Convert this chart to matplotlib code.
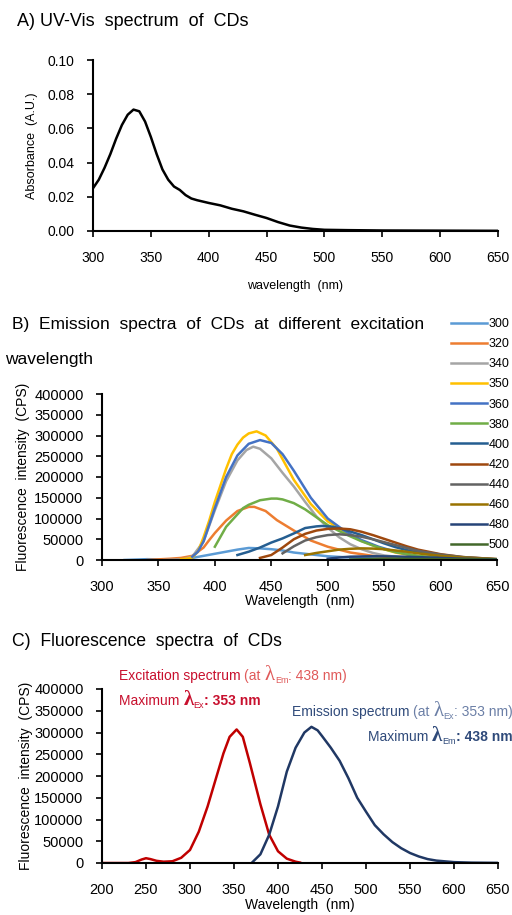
import numpy as np
import matplotlib.pyplot as plt

plt.rcParams['font.family'] = ['Liberation Sans', 'DejaVu Sans']

# A) UV-Vis
uv_wl = [300, 305, 310, 315, 320, 325, 330, 335, 340, 345, 350, 355, 360, 365, 370, 375,
         380, 385, 390, 400, 410, 420, 430, 440, 450, 460, 470, 480, 490, 500, 520, 550, 600, 650]
uv_abs = [0.025, 0.030, 0.037, 0.045, 0.054, 0.062, 0.068, 0.071, 0.070, 0.064, 0.055, 0.045,
          0.036, 0.030, 0.026, 0.024, 0.021, 0.019, 0.018, 0.0164, 0.015, 0.013, 0.0115, 0.0095,
          0.0076, 0.0052, 0.0032, 0.0020, 0.0012, 0.0007, 0.0005, 0.0003, 0.0002, 0.0001]

# B) emission at different excitation wavelengths
ex_labels = ['300', '320', '340', '350', '360', '380', '400', '420', '440', '460', '480', '500']
ex_colors = ['#5B9BD5', '#ED7D31', '#A5A5A5', '#FFC000', '#4472C4', '#70AD47',
             '#255E91', '#9E480E', '#636363', '#997300', '#264478', '#43682B']
em_wl = {
    '300': [320, 340, 360, 380, 400, 420, 430, 440, 450, 460, 470, 480, 490, 500, 520, 550, 600, 650],
    '320': [340, 360, 370, 380, 390, 395, 400, 410, 420, 430, 435, 445, 455, 470, 485, 500, 520,
            540, 560, 580, 600, 650],
    '340': [355, 365, 372, 380, 390, 400, 410, 420, 428, 434, 440, 450, 460, 470, 480, 490, 500, 510,
            520, 530, 540, 550, 570, 600, 650],
    '350': [370, 375, 380, 385, 390, 395, 400, 405, 410, 415, 420, 425, 430, 437, 445, 455, 470,
            485, 500, 515, 530, 545, 560, 580, 600, 650],
    '360': [380, 385, 390, 395, 400, 410, 420, 430, 440, 450, 460, 470, 485, 500, 515, 530, 545,
            560, 580, 600, 650],
    '380': [400, 410, 420, 425, 430, 440, 450, 455, 460, 470, 480, 490, 500, 510, 520, 530, 540, 550,
            560, 580, 600, 625, 650],
    '400': [420, 430, 440, 450, 460, 470, 480, 490, 495, 505, 515, 530, 540, 550, 560, 570, 580, 600,
            625, 650],
    '420': [440, 450, 460, 470, 480, 490, 500, 510, 520, 530, 540, 550, 560, 570, 580, 600, 620, 650],
    '440': [460, 470, 480, 490, 500, 510, 520, 530, 540, 550, 560, 570, 580, 600, 620, 650],
    '460': [480, 490, 500, 510, 520, 530, 540, 550, 560, 570, 580, 600, 620, 650],
    '480': [500, 510, 520, 540, 560, 580, 600, 620, 650],
    '500': [520, 540, 560, 580, 600, 650],
}
em_int = {
    '300': [0, 2000, 1000, 5000, 15000, 25000, 29000, 28000, 26000, 23000, 18000, 15000, 12000, 9000,
            6000, 3000, 1000, 200],
    '320': [0, 3000, 5000, 10000, 30000, 48000, 65000, 95000, 118000, 128000, 128000, 118000, 96000,
            71000, 47000, 32000, 18000, 10000, 6000, 3000, 1500, 300],
    '340': [0, 1000, 2000, 8000, 45000, 120000, 190000, 240000, 265000, 273000, 268000, 245000,
            210000, 177000, 140000, 105000, 78000, 55000, 38000, 26000, 17000, 11000, 5000, 2000, 300],
    '350': [2000, 3000, 6000, 20000, 55000, 95000, 140000, 180000, 220000, 255000, 278000, 295000,
            305000, 310000, 300000, 268000, 193000, 135000, 93000, 68000, 46000, 30000, 18000, 8000,
            3500, 500],
    '360': [8000, 20000, 45000, 85000, 125000, 200000, 252000, 280000, 289000, 282000, 255000, 215000,
            150000, 100000, 70000, 48000, 32000, 20000, 9000, 4000, 500],
    '380': [32000, 80000, 110000, 125000, 133000, 144000, 148000, 148000, 146000, 137000, 122000,
            103000, 84000, 70000, 57000, 45000, 35000, 26000, 19000, 10000, 5000, 2000, 800],
    '400': [12000, 20000, 30000, 42000, 52000, 64000, 77000, 81000, 82000, 80000, 73000, 60000, 50000,
            40000, 31000, 24000, 18000, 9000, 4000, 1500],
    '420': [5000, 12000, 30000, 50000, 63000, 71000, 75000, 76000, 74000, 68000, 60000, 51000, 42000,
            33000, 25000, 14000, 7000, 2000],
    '440': [16000, 33000, 47000, 55000, 60000, 62000, 60000, 56000, 50000, 43000, 36000, 29000, 22000,
            13000, 7000, 2000],
    '460': [12000, 17000, 21000, 25000, 27000, 28000, 27500, 26000, 23000, 20000, 16000, 10000, 6000,
            2000],
    '480': [3000, 6000, 8000, 9000, 8500, 7000, 5000, 3000, 1500],
    '500': [1000, 2500, 3000, 2500, 2000, 1000],
}

# C) excitation / emission spectra
exc_wl = [200, 230, 238, 245, 250, 255, 262, 270, 280, 290, 300, 310, 320, 330, 338, 345, 353,
          360, 368, 380, 390, 400, 410, 420, 425]
exc_int = [0, 0, 2000, 8000, 11000, 9000, 5000, 3000, 4000, 12000, 30000, 72000, 130000, 198000,
           252000, 290000, 307000, 290000, 230000, 135000, 65000, 27000, 10000, 3000, 1000]
emi_wl = [370, 380, 390, 400, 410, 420, 430, 438, 445, 450, 460, 470, 480, 490, 500, 510, 520,
          530, 540, 550, 560, 570, 580, 600, 620, 650]
emi_int = [0, 20000, 65000, 130000, 210000, 265000, 300000, 313000, 305000, 292000, 265000,
           235000, 195000, 150000, 118000, 87000, 66000, 48000, 34000, 23000, 15000, 9000, 5500,
           2000, 800, 300]

W, H = 512, 915
fig = plt.figure(figsize=(W / 100, H / 100), dpi=100)


def box(l, r, t, b):
    return [l / W, 1 - b / H, (r - l) / W, (b - t) / H]


def style(ax, size):
    for s in ['top', 'right']:
        ax.spines[s].set_visible(False)
    ax.spines['left'].set_linewidth(1.5)
    ax.spines['bottom'].set_linewidth(1.5)
    ax.tick_params(direction='out', length=4.3, width=1.2, labelsize=size)
    ax.tick_params(axis='x', pad=10)
    ax.tick_params(axis='y', pad=9)


# panel A
axA = fig.add_axes(box(93, 498, 60, 231))
axA.plot(uv_wl, uv_abs, color='black', lw=1.8)
axA.set_xlim(300, 650)
axA.set_ylim(0, 0.10)
axA.set_xticks(range(300, 651, 50))
axA.set_yticks([0, 0.02, 0.04, 0.06, 0.08, 0.10])
axA.set_yticklabels(['0.00', '0.02', '0.04', '0.06', '0.08', '0.10'])
style(axA, 10)
axA.set_xlabel('wavelength  (nm)', fontsize=9, labelpad=11)
axA.set_ylabel('Absorbance  (A.U.)', fontsize=9, labelpad=7)
fig.text(17 / W, 1 - 21 / H, 'A) UV-Vis  spectrum  of  CDs', fontsize=13, va='center')

# panel B
axB = fig.add_axes(box(102, 497, 394, 560))
for lab, c in zip(ex_labels, ex_colors):
    axB.plot(em_wl[lab], em_int[lab], color=c, lw=1.8, label=lab)
axB.set_xlim(300, 650)
axB.set_ylim(0, 400000)
axB.set_xticks(range(300, 651, 50))
axB.set_yticks(range(0, 400001, 50000))
style(axB, 10.5)
axB.set_xlabel('Wavelength  (nm)', fontsize=10, labelpad=0)
axB.set_ylabel('Fluorescence  intensity  (CPS)', fontsize=10, labelpad=3)
fig.text(12 / W, 1 - 325 / H, 'B)  Emission  spectra  of  CDs  at  different  excitation',
         fontsize=12.5, va='center')
fig.text(5 / W, 1 - 359 / H, 'wavelength', fontsize=12.5, va='center')
fig.legend(handles=axB.get_lines(), loc='upper left', bbox_to_anchor=(451 / W, 1 - 318 / H),
           frameon=False, fontsize=9, handlelength=2.9, handletextpad=0.1,
           labelspacing=0.65, borderaxespad=0, borderpad=0)

# panel C
axC = fig.add_axes(box(102, 498, 689, 863))
red, navy = '#C00000', '#203864'
axC.plot(exc_wl, exc_int, color=red, lw=1.8)
axC.plot(emi_wl, emi_int, color=navy, lw=1.8)
axC.set_xlim(200, 650)
axC.set_ylim(0, 400000)
axC.set_xticks(range(200, 651, 50))
axC.set_yticks(range(0, 400001, 50000))
style(axC, 10.5)
axC.set_xlabel('Wavelength  (nm)', fontsize=10, labelpad=1)
axC.set_ylabel('Fluorescence  intensity  (CPS)', fontsize=10, labelpad=1)
fig.text(12 / W, 1 - 642 / H, 'C)  Fluorescence  spectra  of  CDs', fontsize=12.7, va='center')

fig.canvas.draw()
renderer = fig.canvas.get_renderer()


def chain(x, y, parts):
    # write text pieces one after another on a shared baseline
    x = x / W
    for s, c, size, w, dy, fam in parts:
        t = fig.text(x, 1 - (y + dy) / H, s, color=c, fontsize=size, fontweight=w,
                     va='baseline', family=fam)
        x = t.get_window_extent(renderer).x1 / W


sans = ['Liberation Sans', 'DejaVu Sans']
serif = ['Liberation Serif', 'DejaVu Serif']
r1, r2 = '#C8102E', '#E05A5A'
b1, b2 = '#2F4A7A', '#6B7FA6'
fs = 10
chain(119, 680, [('Excitation spectrum ', r1, fs, 'normal', 0, sans),
                 ('(at ', r2, fs, 'normal', 0, sans),
                 ('λ', r2, 15, 'normal', 0, serif),
                 ('Em', r2, 6.5, 'normal', 3, sans),
                 (': 438 nm)', r2, fs, 'normal', 0, sans)])
chain(119, 705, [('Maximum ', r1, fs, 'normal', 0, sans),
                 ('λ', r1, 15, 'bold', 0, serif),
                 ('Ex', r1, 6.5, 'normal', 3, sans),
                 (': 353 nm', r1, fs, 'bold', 0, sans)])
chain(292, 716, [('Emission spectrum ', b1, fs, 'normal', 0, sans),
                 ('(at ', b2, fs, 'normal', 0, sans),
                 ('λ', b2, 15, 'normal', 0, serif),
                 ('Ex', b2, 6.5, 'normal', 3, sans),
                 (': 353 nm)', b2, fs, 'normal', 0, sans)])
chain(368, 741, [('Maximum ', b1, fs, 'normal', 0, sans),
                 ('λ', b1, 15, 'bold', 0, serif),
                 ('Em', b1, 6.5, 'normal', 3, sans),
                 (': 438 nm', b1, fs, 'bold', 0, sans)])

fig.savefig('out.png', dpi=100)
